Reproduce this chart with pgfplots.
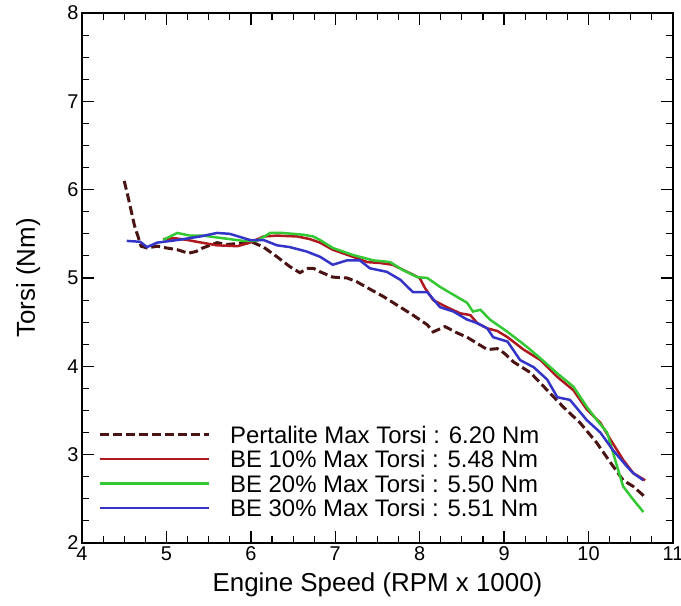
\documentclass[border=0pt]{standalone}
\usepackage{fontspec}
\setmainfont{Liberation Sans}
\usepackage{pgfplots}
\pgfplotsset{compat=1.18}
\definecolor{cpert}{HTML}{4A1414}
\definecolor{cred}{HTML}{B01820}
\definecolor{cgreen}{HTML}{34C834}
\definecolor{cblue}{HTML}{3434C8}

\begin{document}
\begin{tikzpicture}
\begin{axis}[
    scale only axis, width=591bp, height=530bp,
    xmin=4, xmax=11, ymin=2, ymax=8,
    xtick={4,5,6,7,8,9,10,11}, ytick={2,3,4,5,6,7,8},
    major tick length=0pt,
    clip mode=individual,
    axis line style={line width=2pt},
    ticklabel style={font=\fontsize{20}{24}\selectfont},
    /pgf/number format/assume math mode=true,
    xlabel={Engine Speed (RPM x 1000)}, ylabel={Torsi (Nm)},
    label style={font=\fontsize{26}{30}\selectfont},
    xlabel style={at={(axis description cs:0.5,-0.079)}, anchor=center},
    ylabel style={at={(axis description cs:-0.091,0.5)}, anchor=center},
    legend style={at={(axis description cs:0.027,0.222)}, anchor=north west,
        draw=none, fill=none, inner sep=0pt,
        font=\fontsize{24}{26}\selectfont, row sep=7bp,
        nodes={inner sep=0pt, text height=17.5bp, text depth=0bp}},
    /tikz/every odd column/.append style={column sep=20bp},
    legend image code/.code={\draw[#1] (0bp,0bp) -- (109bp,0bp);},
    legend cell align=left,
]
\addplot[cpert, line width=3bp, dash pattern=on 9bp off 4bp] coordinates {
(4.50,6.10)(4.55,5.90)(4.62,5.60)(4.70,5.36)(4.77,5.34)(4.89,5.36)(5.00,5.34)
(5.13,5.32)(5.26,5.28)(5.35,5.30)(5.43,5.34)(5.60,5.40)(5.72,5.38)(5.84,5.39)
(6.03,5.40)(6.15,5.35)(6.31,5.24)(6.46,5.13)(6.58,5.06)(6.68,5.11)(6.74,5.11)
(6.82,5.07)(6.97,5.01)(7.14,5.00)(7.25,4.96)(7.38,4.89)(7.57,4.79)(7.77,4.67)
(7.92,4.58)(8.09,4.47)(8.16,4.39)(8.30,4.45)(8.44,4.38)(8.56,4.33)(8.68,4.26)
(8.80,4.19)(8.92,4.20)(9.00,4.15)(9.11,4.05)(9.31,3.93)(9.51,3.73)(9.70,3.54)
(9.90,3.36)(10.10,3.13)(10.26,2.91)(10.41,2.71)(10.53,2.64)(10.67,2.52)};
\addplot[cred, line width=2.5bp] coordinates {
(4.96,5.44)(5.10,5.45)(5.25,5.43)(5.36,5.41)(5.60,5.37)(5.84,5.36)(5.99,5.40)
(6.15,5.47)(6.31,5.48)(6.55,5.47)(6.70,5.44)(6.82,5.40)(6.97,5.32)(7.21,5.24)
(7.38,5.18)(7.53,5.17)(7.68,5.15)(7.85,5.07)(8.00,5.00)(8.06,4.89)(8.16,4.75)
(8.32,4.67)(8.48,4.60)(8.60,4.58)(8.68,4.49)(8.80,4.43)(8.92,4.40)(9.04,4.33)
(9.23,4.19)(9.43,4.07)(9.63,3.88)(9.82,3.73)(9.98,3.51)(10.14,3.36)(10.26,3.17)
(10.41,2.94)(10.53,2.79)(10.67,2.71)};
\addplot[cgreen, line width=2.5bp] coordinates {
(4.96,5.43)(5.13,5.51)(5.28,5.48)(5.43,5.48)(5.67,5.45)(5.91,5.42)(6.07,5.42)
(6.23,5.51)(6.38,5.51)(6.62,5.49)(6.74,5.47)(6.82,5.43)(6.97,5.34)(7.21,5.26)
(7.45,5.20)(7.65,5.18)(7.80,5.09)(7.97,5.01)(8.09,5.00)(8.24,4.90)(8.40,4.81)
(8.56,4.72)(8.63,4.62)(8.72,4.64)(8.83,4.53)(8.95,4.45)(9.04,4.39)(9.19,4.28)
(9.27,4.22)(9.43,4.09)(9.63,3.92)(9.82,3.77)(9.98,3.54)(10.10,3.39)(10.22,3.25)
(10.34,2.86)(10.41,2.64)(10.53,2.49)(10.65,2.35)};
\addplot[cblue, line width=2.5bp] coordinates {
(4.53,5.42)(4.69,5.41)(4.77,5.35)(4.89,5.40)(5.13,5.43)(5.40,5.47)(5.60,5.51)
(5.75,5.50)(5.99,5.43)(6.15,5.43)(6.31,5.37)(6.46,5.35)(6.66,5.30)(6.82,5.24)
(6.97,5.15)(7.14,5.20)(7.29,5.20)(7.41,5.11)(7.61,5.07)(7.77,4.98)(7.92,4.84)
(8.09,4.84)(8.24,4.67)(8.40,4.62)(8.56,4.53)(8.68,4.49)(8.80,4.43)(8.87,4.33)
(9.04,4.28)(9.19,4.07)(9.35,3.99)(9.51,3.85)(9.63,3.65)(9.78,3.62)(9.98,3.39)
(10.14,3.25)(10.29,3.05)(10.46,2.86)(10.53,2.79)(10.65,2.71)};
\legend{Pertalite Max Torsi : 6.20 Nm, BE 10\% Max Torsi : 5.48 Nm,
        BE 20\% Max Torsi : 5.50 Nm, BE 30\% Max Torsi : 5.51 Nm}
% major ticks, all four sides, as one path
\draw[black, line width=1.4pt]
 (axis cs:5,2)--(axis cs:5,2.136) (axis cs:6,2)--(axis cs:6,2.136)
 (axis cs:7,2)--(axis cs:7,2.136) (axis cs:8,2)--(axis cs:8,2.136)
 (axis cs:9,2)--(axis cs:9,2.136) (axis cs:10,2)--(axis cs:10,2.136)
 (axis cs:5,8)--(axis cs:5,7.864) (axis cs:6,8)--(axis cs:6,7.864)
 (axis cs:7,8)--(axis cs:7,7.864) (axis cs:8,8)--(axis cs:8,7.864)
 (axis cs:9,8)--(axis cs:9,7.864) (axis cs:10,8)--(axis cs:10,7.864)
 (axis cs:4,3)--(axis cs:4.142,3) (axis cs:4,4)--(axis cs:4.142,4)
 (axis cs:4,5)--(axis cs:4.142,5) (axis cs:4,6)--(axis cs:4.142,6)
 (axis cs:4,7)--(axis cs:4.142,7)
 (axis cs:11,3)--(axis cs:10.858,3) (axis cs:11,4)--(axis cs:10.858,4)
 (axis cs:11,5)--(axis cs:10.858,5) (axis cs:11,6)--(axis cs:10.858,6)
 (axis cs:11,7)--(axis cs:10.858,7);
% minor ticks, bottom and top
\draw[black, line width=1.1pt]
 (axis cs:4.25,2)--(axis cs:4.25,2.079) (axis cs:4.5,2)--(axis cs:4.5,2.079)
 (axis cs:4.75,2)--(axis cs:4.75,2.079) (axis cs:5.25,2)--(axis cs:5.25,2.079)
 (axis cs:5.5,2)--(axis cs:5.5,2.079) (axis cs:5.75,2)--(axis cs:5.75,2.079)
 (axis cs:6.25,2)--(axis cs:6.25,2.079) (axis cs:6.5,2)--(axis cs:6.5,2.079)
 (axis cs:6.75,2)--(axis cs:6.75,2.079) (axis cs:7.25,2)--(axis cs:7.25,2.079)
 (axis cs:7.5,2)--(axis cs:7.5,2.079) (axis cs:7.75,2)--(axis cs:7.75,2.079)
 (axis cs:8.25,2)--(axis cs:8.25,2.079) (axis cs:8.5,2)--(axis cs:8.5,2.079)
 (axis cs:8.75,2)--(axis cs:8.75,2.079) (axis cs:9.25,2)--(axis cs:9.25,2.079)
 (axis cs:9.5,2)--(axis cs:9.5,2.079) (axis cs:9.75,2)--(axis cs:9.75,2.079)
 (axis cs:10.25,2)--(axis cs:10.25,2.079) (axis cs:10.5,2)--(axis cs:10.5,2.079)
 (axis cs:10.75,2)--(axis cs:10.75,2.079)
 (axis cs:4.25,8)--(axis cs:4.25,7.921) (axis cs:4.5,8)--(axis cs:4.5,7.921)
 (axis cs:4.75,8)--(axis cs:4.75,7.921) (axis cs:5.25,8)--(axis cs:5.25,7.921)
 (axis cs:5.5,8)--(axis cs:5.5,7.921) (axis cs:5.75,8)--(axis cs:5.75,7.921)
 (axis cs:6.25,8)--(axis cs:6.25,7.921) (axis cs:6.5,8)--(axis cs:6.5,7.921)
 (axis cs:6.75,8)--(axis cs:6.75,7.921) (axis cs:7.25,8)--(axis cs:7.25,7.921)
 (axis cs:7.5,8)--(axis cs:7.5,7.921) (axis cs:7.75,8)--(axis cs:7.75,7.921)
 (axis cs:8.25,8)--(axis cs:8.25,7.921) (axis cs:8.5,8)--(axis cs:8.5,7.921)
 (axis cs:8.75,8)--(axis cs:8.75,7.921) (axis cs:9.25,8)--(axis cs:9.25,7.921)
 (axis cs:9.5,8)--(axis cs:9.5,7.921) (axis cs:9.75,8)--(axis cs:9.75,7.921)
 (axis cs:10.25,8)--(axis cs:10.25,7.921) (axis cs:10.5,8)--(axis cs:10.5,7.921)
 (axis cs:10.75,8)--(axis cs:10.75,7.921);
% minor ticks, left and right
\draw[black, line width=1.1pt]
 (axis cs:4,2.25)--(axis cs:4.083,2.25) (axis cs:4,2.5)--(axis cs:4.083,2.5)
 (axis cs:4,2.75)--(axis cs:4.083,2.75) (axis cs:4,3.25)--(axis cs:4.083,3.25)
 (axis cs:4,3.5)--(axis cs:4.083,3.5) (axis cs:4,3.75)--(axis cs:4.083,3.75)
 (axis cs:4,4.25)--(axis cs:4.083,4.25) (axis cs:4,4.5)--(axis cs:4.083,4.5)
 (axis cs:4,4.75)--(axis cs:4.083,4.75) (axis cs:4,5.25)--(axis cs:4.083,5.25)
 (axis cs:4,5.5)--(axis cs:4.083,5.5) (axis cs:4,5.75)--(axis cs:4.083,5.75)
 (axis cs:4,6.25)--(axis cs:4.083,6.25) (axis cs:4,6.5)--(axis cs:4.083,6.5)
 (axis cs:4,6.75)--(axis cs:4.083,6.75) (axis cs:4,7.25)--(axis cs:4.083,7.25)
 (axis cs:4,7.5)--(axis cs:4.083,7.5) (axis cs:4,7.75)--(axis cs:4.083,7.75)
 (axis cs:11,2.25)--(axis cs:10.917,2.25) (axis cs:11,2.5)--(axis cs:10.917,2.5)
 (axis cs:11,2.75)--(axis cs:10.917,2.75) (axis cs:11,3.25)--(axis cs:10.917,3.25)
 (axis cs:11,3.5)--(axis cs:10.917,3.5) (axis cs:11,3.75)--(axis cs:10.917,3.75)
 (axis cs:11,4.25)--(axis cs:10.917,4.25) (axis cs:11,4.5)--(axis cs:10.917,4.5)
 (axis cs:11,4.75)--(axis cs:10.917,4.75) (axis cs:11,5.25)--(axis cs:10.917,5.25)
 (axis cs:11,5.5)--(axis cs:10.917,5.5) (axis cs:11,5.75)--(axis cs:10.917,5.75)
 (axis cs:11,6.25)--(axis cs:10.917,6.25) (axis cs:11,6.5)--(axis cs:10.917,6.5)
 (axis cs:11,6.75)--(axis cs:10.917,6.75) (axis cs:11,7.25)--(axis cs:10.917,7.25)
 (axis cs:11,7.5)--(axis cs:10.917,7.5) (axis cs:11,7.75)--(axis cs:10.917,7.75);
\draw[black, line width=2pt] (rel axis cs:0,0) rectangle (rel axis cs:1,1);
\end{axis}
\pgfresetboundingbox
\path[use as bounding box] (-82bp,-63bp) rectangle (599bp,543bp);
\end{tikzpicture}
\end{document}
